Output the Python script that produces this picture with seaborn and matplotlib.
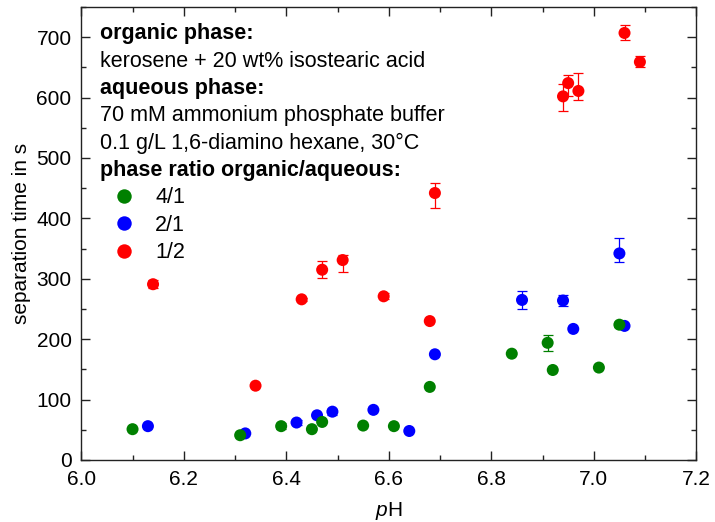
import numpy as np
import pandas as pd
import matplotlib
matplotlib.use("Agg")
import matplotlib.pyplot as plt
from matplotlib.ticker import MultipleLocator, FormatStrFormatter
import seaborn as sns

# phase ratio 4/1 (organic/aqueous)
ph_41 = [6.10, 6.31, 6.39, 6.45, 6.47, 6.55, 6.61, 6.68, 6.84, 6.91, 6.92, 7.01, 7.05]
t_41 = [51, 41, 56, 51, 63, 57, 56, 121, 176, 194, 149, 153, 224]
lo_41 = [0, 0, 5, 0, 0, 0, 0, 0, 0, 13, 0, 0, 4]
hi_41 = [0, 0, 5, 0, 0, 0, 0, 0, 0, 13, 0, 0, 4]

# phase ratio 2/1
ph_21 = [6.13, 6.32, 6.42, 6.46, 6.49, 6.57, 6.64, 6.69, 6.86, 6.94, 6.96, 7.05, 7.06]
t_21 = [56, 44, 62, 74, 80, 83, 48, 175, 265, 264, 217, 342, 222]
lo_21 = [0, 0, 4, 0, 5, 0, 0, 0, 15, 9, 0, 14, 0]
hi_21 = [0, 0, 4, 0, 5, 0, 0, 0, 15, 9, 0, 25, 0]

# phase ratio 1/2
ph_12 = [6.14, 6.34, 6.43, 6.47, 6.51, 6.59, 6.68, 6.69, 6.94, 6.95, 6.97, 7.06, 7.09]
t_12 = [291, 123, 266, 315, 331, 271, 230, 442, 602, 624, 611, 707, 659]
lo_12 = [7, 0, 3, 13, 19, 5, 0, 25, 25, 22, 15, 12, 9]
hi_12 = [7, 0, 3, 14, 9, 5, 0, 16, 21, 13, 29, 14, 10]

ratios = ["4/1", "2/1", "1/2"]
colors = {"4/1": "#008000", "2/1": "#0000ff", "1/2": "#ff0000"}

info_lines = [
    ("organic phase:", "bold"),
    ("kerosene + 20 wt% isostearic acid", "normal"),
    ("aqueous phase:", "bold"),
    ("70 mM ammonium phosphate buffer", "normal"),
    ("0.1 g/L 1,6-diamino hexane, 30°C", "normal"),
    ("phase ratio organic/aqueous:", "bold"),
]

# red first, green last -> green ends up on top where points overlap
df = pd.concat([
    pd.DataFrame({"pH": ph_12, "t": t_12, "lo": lo_12, "hi": hi_12, "ratio": "1/2"}),
    pd.DataFrame({"pH": ph_21, "t": t_21, "lo": lo_21, "hi": hi_21, "ratio": "2/1"}),
    pd.DataFrame({"pH": ph_41, "t": t_41, "lo": lo_41, "hi": hi_41, "ratio": "4/1"}),
], ignore_index=True)

FS = 15
FS_TXT = 15.5

sns.set_theme(style="ticks")
plt.rcParams["font.family"] = ["Liberation Sans", "DejaVu Sans"]
plt.rcParams["mathtext.fontset"] = "custom"
plt.rcParams["mathtext.rm"] = "Liberation Sans"
plt.rcParams["mathtext.it"] = "Liberation Sans:italic"
plt.rcParams["text.color"] = "black"
plt.rcParams["axes.labelcolor"] = "black"
plt.rcParams["xtick.color"] = "black"
plt.rcParams["ytick.color"] = "black"

fig, ax = plt.subplots(figsize=(7.15, 5.22), dpi=100)
fig.subplots_adjust(left=0.1137, right=0.9738, bottom=0.1188, top=0.9866)

# error bars (only where there is one)
for r in ratios:
    sub = df[(df["ratio"] == r) & ((df["lo"] > 0) | (df["hi"] > 0))]
    ax.errorbar(sub["pH"], sub["t"], yerr=[sub["lo"], sub["hi"]], fmt="none",
                ecolor=colors[r], elinewidth=0.9, capsize=3.5, capthick=0.9, zorder=1.5)

sns.scatterplot(data=df, x="pH", y="t", hue="ratio", hue_order=ratios, palette=colors,
                s=75, linewidth=0, ax=ax, zorder=3)

ax.set_xlim(6.0, 7.2)
ax.set_ylim(0, 750)
ax.xaxis.set_major_locator(MultipleLocator(0.2))
ax.xaxis.set_minor_locator(MultipleLocator(0.1))
ax.yaxis.set_major_locator(MultipleLocator(100))
ax.yaxis.set_minor_locator(MultipleLocator(50))
ax.xaxis.set_major_formatter(FormatStrFormatter("%.1f"))

for sp in ax.spines.values():
    sp.set_color("#222222")
    sp.set_linewidth(1.0)
ax.tick_params(which="both", direction="in", top=True, right=True, color="#222222", width=1.0)
ax.tick_params(which="major", length=6.5, labelsize=FS, pad=7)
ax.tick_params(which="minor", length=3.8)

ax.set_xlabel("$p$H", fontsize=FS, labelpad=8)
ax.set_ylabel("separation time in s", fontsize=FS, labelpad=4)

# description text block
for i, (txt, wt) in enumerate(info_lines):
    ax.text(0.031, 0.9287 - i * 0.0603, txt, transform=ax.transAxes,
            fontsize=FS_TXT, fontweight=wt, va="baseline", ha="left")

handles, labels = ax.get_legend_handles_labels()
ax.legend(handles, labels, loc="upper left", bbox_to_anchor=(0.052, 0.602),
          frameon=False, fontsize=FS_TXT, handlelength=1.0, handletextpad=0.95,
          labelspacing=0.30, borderaxespad=0, borderpad=0, markerscale=1.2)

fig.savefig("out.png", dpi=100)
